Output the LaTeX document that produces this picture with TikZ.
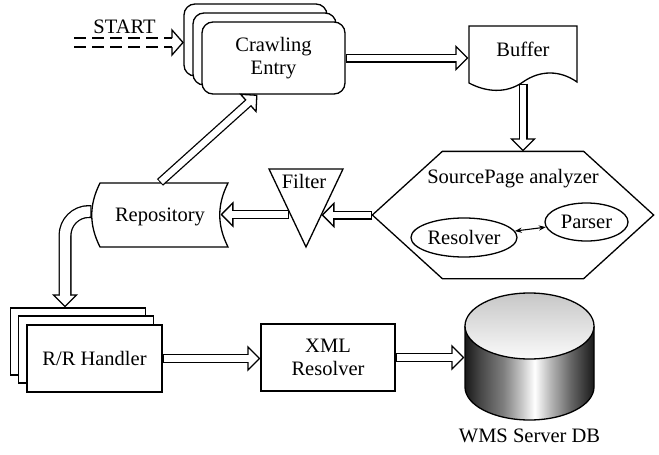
\documentclass[tikz,border=0pt]{standalone}
\usepackage{fontspec}
\setmainfont{Liberation Serif}
\usetikzlibrary{shapes.geometric}
\usetikzlibrary{arrows.meta}
\pgfdeclarehorizontalshading{dbside}{100bp}{color(0bp)=(black!90); color(25bp)=(black!90); color(31bp)=(black!72); color(40bp)=(black!50); color(47bp)=(black!22); color(52bp)=(white); color(58bp)=(black!28); color(66bp)=(black!60); color(75bp)=(black!90); color(100bp)=(black!90)}
\tikzset{shaft/.store in=\shaftwidth, shaft=9pt}
\tikzstyle{entry}=[draw, fill=white, rounded corners=11pt, minimum width=143pt, minimum height=72pt, inner sep=0pt, align=center]
\tikzstyle{box}=[draw, fill=white, minimum width=135pt, minimum height=67pt, inner sep=0pt, align=center]
\tikzstyle{word}=[inner sep=0pt, text height=13.5pt, text depth=0pt]
\tikzstyle{area}=[inner sep=0pt]
\tikzstyle{unit}=[draw, ellipse, inner sep=0pt]
\tikzstyle{flowhead}=[-{Triangle[length=13pt, width=26pt, fill=white]}]
\tikzstyle{flowouter}=[line width=\shaftwidth, shorten >=12pt]
\tikzstyle{flowinner}=[white, line width=\shaftwidth-2.6pt, shorten >=9pt, shorten <=1pt]
\newcommand{\blockarrow}[2][]{%
  \draw[#1, flowhead] #2;
  \draw[#1, flowouter] #2;
  \draw[#1, flowinner] #2;}

\begin{document}
\begin{tikzpicture}[x=1pt, y=-1pt, line width=1.3pt, font=\fontsize{20.5}{23}\selectfont]
        \useasboundingbox (0,0) rectangle (659,455);
        % crawling entry (stacked)
        \node[entry] (ceA) at (255.5,40) {};
        \node[entry] (ceB) at (264.5,49) {};
        \node[entry] (ce) at (273.5,58) {Crawling\\Entry};
        \node[word] (start) at (124.5,26.5) {START};
        \coordinate (startpt) at (74,42.5);
        \coordinate (starttip) at (183,42.5);
        \draw[dash pattern=on 12pt off 6pt] ([yshift=4.5pt]startpt) -- ([yshift=4.5pt, xshift=-11pt]starttip);
        \draw[dash pattern=on 12pt off 6pt] ([yshift=-4.5pt]startpt) -- ([yshift=-4.5pt, xshift=-11pt]starttip);
        \draw ([yshift=4.5pt, xshift=-11pt]starttip) -- ([yshift=12.5pt, xshift=-11pt]starttip) -- (starttip)
            -- ([yshift=-12.5pt, xshift=-11pt]starttip) -- ([yshift=-4.5pt, xshift=-11pt]starttip);
        % buffer
        \node[area, minimum width=108pt, minimum height=57pt] (buffer) at (523,54.5) {};
        \draw (469,26) -- (577,26) -- (577,82) .. controls (560,70) and (540,70) .. (523,82)
            .. controls (506,94) and (486,92) .. (469,83) -- cycle;
        \node[word] (buffertext) at (523,50) {Buffer};
        % sourcepage analyzer
        \node[area, minimum width=280pt, minimum height=126pt] (sp) at (513,215) {};
        \draw (sp.west) -- ([xshift=70pt]sp.north west) -- ([xshift=-70pt]sp.north east) -- (sp.east)
            -- ([xshift=-70pt]sp.south east) -- ([xshift=70pt]sp.south west) -- cycle;
        \node[word] (sptitle) at (513,176.5) {SourcePage analyzer};
        \node[unit, minimum width=106pt, minimum height=39pt] (resolver) at (464,237.5) {Resolver};
        \node[unit, minimum width=83pt, minimum height=38pt] (parser) at (586.5,222) {Parser};
        \draw[{Stealth[length=7pt]}-{Stealth[length=7pt]}, line width=1.1pt] (resolver) -- (parser);
        % filter
        \draw (269,169) -- (343,169) -- (306,247) -- cycle;
        \node[word] (filter) at (304,182) {Filter};
        \coordinate (filterR) at (321.5,215);
        \coordinate (filterL) at (289,214.5);
        % repository
        \node[area, word, minimum width=136pt, minimum height=64pt] (repo) at (160,215) {Repository};
        \draw (100,183) -- (228,183) .. controls (217,205) and (217,225) .. (228,247) -- (100,247)
            .. controls (89,225) and (89,205) .. (100,183) -- cycle;
        \coordinate (repoR) at (220.5,214.5);
        % r/r handler (stacked)
        \node[box] (rrA) at (78,341.5) {};
        \node[box] (rrB) at (86,349.5) {};
        \node[box] (rr) at (94.5,358.5) {R/R Handler};
        % xml resolver
        \node[box, minimum width=134pt] (xml) at (328,357.5) {XML\\Resolver};
        % database
        \node[area, minimum width=129pt, minimum height=127pt] (db) at (529.5,356.5) {};
        \shade[shading=dbside] (465,326) -- (465,387) arc[start angle=180, end angle=0, x radius=64.5, y radius=33] -- (594,326) -- cycle;
        \draw (465,326) -- (465,387) arc[start angle=180, end angle=0, x radius=64.5, y radius=33] -- (594,326);
        \shadedraw[top color=black!22, bottom color=black!2] (529.5,326) ellipse [x radius=64.5, y radius=33];
        \node[word] (dbname) at (529.5,435.5) {WMS Server DB};
        % flows
        \blockarrow{(ce.east) -- (ce.east -| buffer.west)}
        \blockarrow{(buffer.south) -- (buffer.south |- sp.north)}
        \blockarrow{(sp.west) -- (filterR)}
        \blockarrow{(filterL) -- (repoR)}
        \blockarrow{(repo.north) -- ([xshift=-16pt]ce.south)}
        \blockarrow[shaft=13pt]{[rounded corners=24pt] ([yshift=3.5pt]repo.west) -| ([xshift=-13pt]rrA.north)}
        \blockarrow{(rr.east) -- (rr.east -| xml.west)}
        \blockarrow{(xml.east) -- (xml.east -| db.west)}
    \end{tikzpicture}
\end{document}
